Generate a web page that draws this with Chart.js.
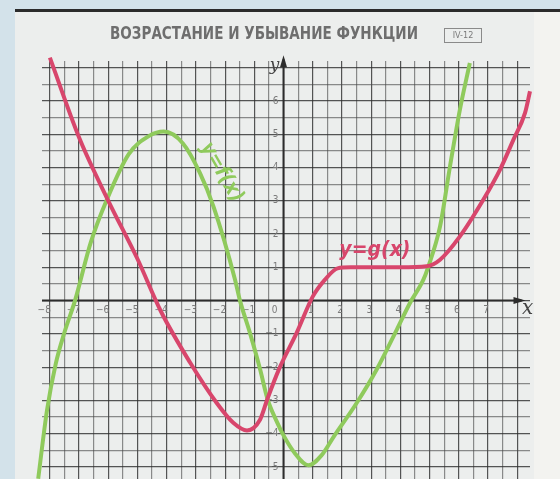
<!DOCTYPE html>
<html>
<head>
<meta charset="utf-8">
<script src="https://cdn.jsdelivr.net/npm/chart.js@4.4.1/dist/chart.umd.min.js"></script>
<style>
html,body{margin:0;padding:0;background:#d3e2ea;overflow:hidden}
#wrap{width:560px;height:479px;position:relative}
canvas{display:block}
</style>
</head>
<body>
<div id="wrap"><canvas id="chart"></canvas></div>
<script>
// values
let gX=[-8.0,-7.0,-6.0,-5.0,-4.2,-3.2,-2.3,-1.72,-1.25,-0.8,-0.55,-0.15,0.45,1.0,1.42,1.85,2.3,3.0,4.0,4.9,5.36,6.04,6.84,7.41,7.87,8.27,8.44];
let gY=[7.3,4.9,3.0,1.25,-0.32,-1.86,-3.06,-3.67,-3.9,-3.57,-2.95,-2.05,-0.97,0.12,0.63,0.97,1.0,1.0,1.0,1.03,1.23,1.93,3.03,3.93,4.83,5.64,6.29];
let fX=[-8.4,-8.1,-7.8,-7.5,-7.14,-6.6,-6.05,-5.3,-4.6,-4.1,-3.45,-2.86,-2.4,-1.66,-1.5,-1.15,-0.8,-0.55,-0.25,0.0,0.4,0.85,1.3,1.71,2.51,3.19,3.88,4.33,4.79,4.95,5.36,5.7,6.04,6.38];
let fY=[-5.35,-3.3,-1.9,-0.95,0.0,1.75,3.03,4.4,4.95,5.08,4.73,3.83,2.83,0.63,0.03,-0.97,-2.07,-2.95,-3.6,-4.05,-4.6,-4.95,-4.65,-4.1,-3.07,-2.07,-0.87,-0.07,0.63,1.0,2.23,4.03,5.74,7.14];
let xTickLabels=[-8,-7,-6,-5,-4,-3,-2,-1,1,2,3,4,5,6,7];
let yTickLabels=[-5,-4,-3,-2,-1,1,2,3,4,5,6];
let title='ВОЗРАСТАНИЕ И УБЫВАНИЕ ФУНКЦИИ', sheet='IV-12';

const RED='#d8466c', GREEN='#8fca5c', INK='#2c2c2c', GREY='#7a7a7a';

// paper, top edge and heading
const paper={
  id:'paper',
  beforeDraw(c){
    let ctx=c.ctx, W=c.width, H=c.height;
    ctx.save();
    ctx.fillStyle='#d3e2ea'; ctx.fillRect(0,0,W,H);
    ctx.fillStyle='#eceeed'; ctx.fillRect(15,12,W-15,H-12);
    ctx.fillStyle='#f3f3f0'; ctx.fillRect(534,12,W-534,H-12);
    ctx.fillStyle='#2b2b2b'; ctx.fillRect(15,9,W-15,3);
    // heading, squeezed to its width on the sheet
    ctx.fillStyle='#6e6e6e';
    ctx.font='bold 17px "DejaVu Sans Condensed","DejaVu Sans",sans-serif';
    ctx.textBaseline='middle'; ctx.textAlign='left';
    let w=ctx.measureText(title).width;
    ctx.translate(110,35); ctx.scale(308/w,1);
    ctx.fillText(title,0,0);
    ctx.setTransform(c.currentDevicePixelRatio,0,0,c.currentDevicePixelRatio,0,0);
    ctx.strokeStyle='#8a8a8a'; ctx.lineWidth=1;
    ctx.strokeRect(444.5,28.5,37,14);
    ctx.font='9px "DejaVu Sans Condensed",sans-serif'; ctx.textAlign='center';
    ctx.fillStyle='#7a7a7a'; ctx.fillText(sheet,463,36);
    ctx.restore();
  }
};

// axes, arrows and numbers along them
const axes={
  id:'axes',
  beforeDatasetsDraw(c){
    let ctx=c.ctx, xs=c.scales.x, ys=c.scales.y, a=c.chartArea;
    let x0=xs.getPixelForValue(0), y0=ys.getPixelForValue(0);
    ctx.save();
    ctx.strokeStyle=INK; ctx.fillStyle=INK; ctx.lineWidth=2;
    let xe=xs.getPixelForValue(8.15), yt=ys.getPixelForValue(7.25);
    ctx.beginPath(); ctx.moveTo(a.left,y0); ctx.lineTo(xe,y0); ctx.stroke();
    ctx.beginPath(); ctx.moveTo(x0,a.bottom); ctx.lineTo(x0,yt); ctx.stroke();
    ctx.beginPath(); ctx.moveTo(xe+4,y0); ctx.lineTo(xe-8,y0-3.5); ctx.lineTo(xe-8,y0+3.5); ctx.closePath(); ctx.fill();
    ctx.beginPath(); ctx.moveTo(x0,yt-4); ctx.lineTo(x0-3.5,yt+8); ctx.lineTo(x0+3.5,yt+8); ctx.closePath(); ctx.fill();

    ctx.fillStyle=GREY;
    ctx.font='10px "DejaVu Sans Condensed","DejaVu Sans",sans-serif';
    ctx.textBaseline='middle'; ctx.textAlign='right';
    xTickLabels.forEach(v=>ctx.fillText(String(v).replace('-','−'),xs.getPixelForValue(v)+1,y0+10));
    ctx.fillText('0',x0-6,y0+10);
    yTickLabels.forEach(v=>ctx.fillText(String(v).replace('-','−'),x0-5,ys.getPixelForValue(v)));

    ctx.fillStyle='#444';
    ctx.font='italic 20px "DejaVu Serif",serif'; ctx.textAlign='center';
    ctx.fillText('x',xe+6,y0+8);
    ctx.font='italic 17px "DejaVu Serif",serif';
    ctx.fillText('y',x0-9,yt+6);
    ctx.restore();
  }
};

// names written beside the curves
const names={
  id:'names',
  afterDatasetsDraw(c){
    let ctx=c.ctx, xs=c.scales.x, ys=c.scales.y;
    ctx.save();
    ctx.textAlign='center'; ctx.textBaseline='middle';
    ctx.font='italic bold 21px "DejaVu Sans Condensed","DejaVu Sans",sans-serif';
    ctx.fillStyle=RED;
    ctx.fillText('y=g(x)',xs.getPixelForValue(3.13),ys.getPixelForValue(1.5));
    ctx.translate(xs.getPixelForValue(-2.12),ys.getPixelForValue(3.85));
    ctx.rotate(60*Math.PI/180);
    ctx.fillStyle=GREEN;
    ctx.font='italic bold 21px "DejaVu Sans Condensed","DejaVu Sans",sans-serif';
    ctx.fillText('y=f(x)',0,0);
    ctx.restore();
  }
};

function pts(xa,ya){ return xa.map((x,i)=>({x:x,y:ya[i]})); }

function gridColor(ctx){
  let v=ctx.tick?ctx.tick.value:0;
  return Number.isInteger(v)?'rgba(45,45,45,0.8)':'rgba(70,70,70,0.6)';
}

new Chart(document.getElementById('chart'),{
  type:'scatter',
  data:{datasets:[
    {label:'g',data:pts(gX,gY),showLine:true,borderColor:RED,borderWidth:4,pointRadius:0,cubicInterpolationMode:'monotone',clip:false},
    {label:'f',data:pts(fX,fY),showLine:true,borderColor:GREEN,borderWidth:4,pointRadius:0,cubicInterpolationMode:'monotone',clip:false}
  ]},
  options:{
    responsive:true, maintainAspectRatio:false, animation:false,
    layout:{padding:{left:42,right:30,top:61,bottom:0}},
    plugins:{legend:{display:false},tooltip:{enabled:false}},
    scales:{
      x:{type:'linear',min:-8.27,max:8.44,
         ticks:{display:false,stepSize:0.5,includeBounds:false},
         grid:{color:gridColor,lineWidth:1.2,drawTicks:false},border:{display:false}},
      y:{type:'linear',min:-5.36,max:7.2,
         ticks:{display:false,stepSize:0.5,includeBounds:false},
         grid:{color:gridColor,lineWidth:1.2,drawTicks:false},border:{display:false}}
    }
  },
  plugins:[paper,axes,names]
});
</script>
</body>
</html>
